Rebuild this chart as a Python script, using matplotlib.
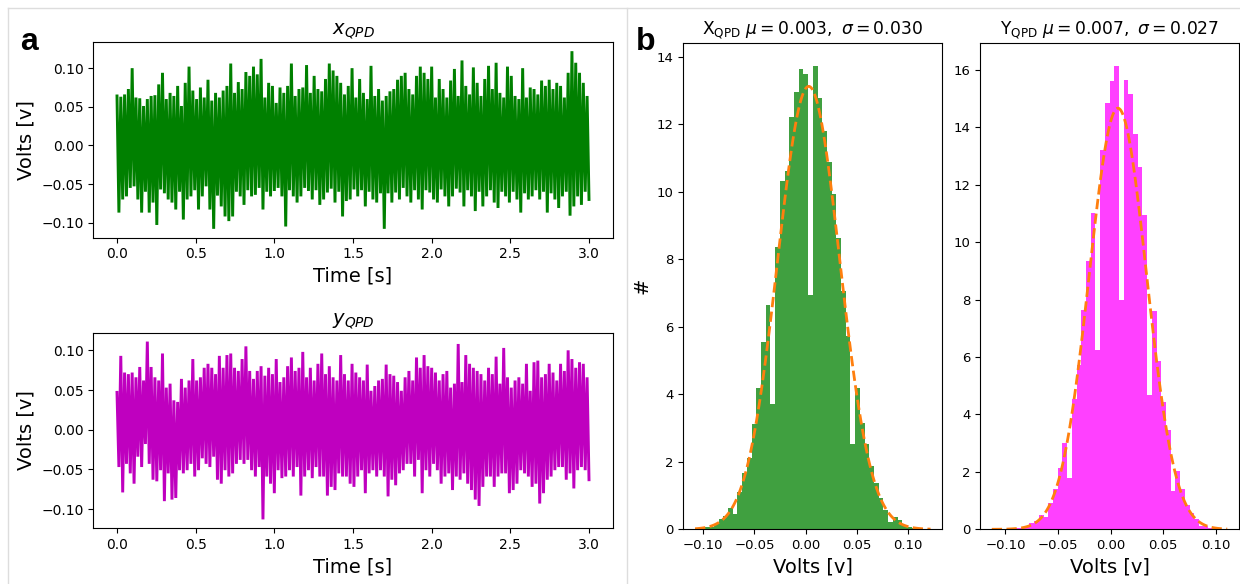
import numpy as np
import matplotlib
matplotlib.use("Agg")
from matplotlib import pyplot as plt
from matplotlib.lines import Line2D

plt.rcParams['path.simplify'] = False

# --- time traces: alternating upper / lower excursions
x_up = [0.064, 0.063, 0.066, 0.073, 0.100, 0.062, 0.061, 0.051, 0.060, 0.064,
        0.065, 0.079, 0.094, 0.060, 0.068, 0.064, 0.077, 0.051, 0.081, 0.102,
        0.071, 0.060, 0.075, 0.062, 0.085, 0.058, 0.068, 0.062, 0.071, 0.077,
        0.106, 0.068, 0.082, 0.073, 0.095, 0.090, 0.102, 0.092, 0.112, 0.062,
        0.081, 0.077, 0.055, 0.075, 0.068, 0.077, 0.106, 0.064, 0.073, 0.075,
        0.104, 0.068, 0.090, 0.073, 0.070, 0.086, 0.106, 0.097, 0.090, 0.081,
        0.066, 0.077, 0.100, 0.062, 0.086, 0.068, 0.060, 0.103, 0.064, 0.073,
        0.058, 0.064, 0.070, 0.073, 0.085, 0.090, 0.094, 0.073, 0.066, 0.090,
        0.102, 0.094, 0.086, 0.102, 0.062, 0.086, 0.073, 0.062, 0.084, 0.099,
        0.064, 0.110, 0.077, 0.066, 0.101, 0.081, 0.064, 0.086, 0.103, 0.073,
        0.107, 0.068, 0.062, 0.102, 0.090, 0.064, 0.060, 0.100, 0.062, 0.075,
        0.073, 0.066, 0.084, 0.077, 0.085, 0.073, 0.081, 0.077, 0.062, 0.094,
        0.122, 0.107, 0.094, 0.081, 0.064]
x_down = [-0.087, -0.070, -0.066, -0.055, -0.053, -0.070, -0.087, -0.060, -0.087, -0.074,
          -0.103, -0.057, -0.062, -0.070, -0.074, -0.083, -0.060, -0.096, -0.070, -0.066,
          -0.058, -0.083, -0.066, -0.053, -0.083, -0.108, -0.065, -0.079, -0.092, -0.098,
          -0.092, -0.060, -0.066, -0.077, -0.058, -0.066, -0.064, -0.055, -0.083, -0.060,
          -0.066, -0.059, -0.055, -0.066, -0.105, -0.058, -0.066, -0.074, -0.066, -0.055,
          -0.059, -0.070, -0.058, -0.077, -0.070, -0.061, -0.056, -0.074, -0.060, -0.092,
          -0.072, -0.070, -0.057, -0.066, -0.058, -0.079, -0.060, -0.070, -0.074, -0.062,
          -0.108, -0.062, -0.074, -0.061, -0.070, -0.055, -0.066, -0.074, -0.058, -0.070,
          -0.083, -0.058, -0.061, -0.070, -0.074, -0.057, -0.066, -0.079, -0.066, -0.056,
          -0.061, -0.079, -0.058, -0.066, -0.085, -0.060, -0.079, -0.066, -0.058, -0.074,
          -0.081, -0.060, -0.066, -0.074, -0.060, -0.070, -0.087, -0.062, -0.070, -0.066,
          -0.058, -0.070, -0.060, -0.087, -0.062, -0.070, -0.081, -0.066, -0.060, -0.091,
          -0.079, -0.066, -0.077, -0.060, -0.070]

y_up = [0.047, 0.093, 0.072, 0.070, 0.072, 0.066, 0.079, 0.062, 0.111, 0.079,
        0.066, 0.062, 0.096, 0.053, 0.058, 0.037, 0.035, 0.064, 0.053, 0.062,
        0.089, 0.062, 0.066, 0.078, 0.083, 0.078, 0.070, 0.093, 0.078, 0.094,
        0.096, 0.078, 0.074, 0.089, 0.105, 0.074, 0.064, 0.074, 0.080, 0.068,
        0.078, 0.070, 0.089, 0.060, 0.066, 0.080, 0.091, 0.074, 0.078, 0.098,
        0.066, 0.078, 0.062, 0.083, 0.096, 0.070, 0.080, 0.066, 0.062, 0.094,
        0.070, 0.062, 0.083, 0.072, 0.066, 0.062, 0.082, 0.049, 0.055, 0.062,
        0.064, 0.082, 0.070, 0.068, 0.060, 0.049, 0.066, 0.074, 0.062, 0.091,
        0.078, 0.094, 0.080, 0.078, 0.072, 0.062, 0.070, 0.074, 0.053, 0.058,
        0.108, 0.060, 0.094, 0.083, 0.078, 0.074, 0.070, 0.062, 0.078, 0.070,
        0.092, 0.058, 0.103, 0.066, 0.053, 0.062, 0.066, 0.058, 0.083, 0.049,
        0.085, 0.087, 0.066, 0.070, 0.083, 0.072, 0.062, 0.083, 0.074, 0.100,
        0.089, 0.078, 0.085, 0.083, 0.066]
y_down = [-0.047, -0.079, -0.043, -0.055, -0.068, -0.034, -0.047, -0.018, -0.043, -0.063,
          -0.065, -0.051, -0.090, -0.055, -0.088, -0.086, -0.051, -0.055, -0.051, -0.043,
          -0.059, -0.051, -0.036, -0.043, -0.047, -0.034, -0.063, -0.068, -0.051, -0.059,
          -0.055, -0.043, -0.038, -0.043, -0.038, -0.051, -0.059, -0.047, -0.113, -0.059,
          -0.068, -0.080, -0.051, -0.061, -0.059, -0.051, -0.059, -0.047, -0.083, -0.059,
          -0.051, -0.061, -0.047, -0.059, -0.059, -0.083, -0.072, -0.076, -0.055, -0.059,
          -0.059, -0.068, -0.072, -0.059, -0.051, -0.080, -0.055, -0.051, -0.059, -0.051,
          -0.059, -0.084, -0.063, -0.070, -0.055, -0.051, -0.043, -0.043, -0.059, -0.038,
          -0.080, -0.051, -0.059, -0.043, -0.051, -0.068, -0.059, -0.055, -0.076, -0.059,
          -0.063, -0.055, -0.068, -0.076, -0.088, -0.096, -0.072, -0.059, -0.059, -0.072,
          -0.059, -0.055, -0.055, -0.080, -0.076, -0.068, -0.051, -0.055, -0.059, -0.072,
          -0.068, -0.093, -0.080, -0.063, -0.059, -0.051, -0.047, -0.047, -0.063, -0.055,
          -0.074, -0.051, -0.047, -0.051, -0.063]

duration = 3.0

# --- histograms (density), 50 bins each
x_range = (-0.108, 0.122)
x_heights = [0.03, 0.05, 0.08, 0.08, 0.15, 0.30, 0.38, 0.62, 0.44, 1.10,
             1.67, 2.10, 3.12, 4.20, 5.55, 6.65, 3.70, 8.37, 10.31, 10.61,
             12.22, 12.96, 13.65, 13.50, 6.95, 13.73, 12.79, 11.79, 10.88, 9.94,
             8.62, 7.05, 5.72, 2.53, 4.20, 3.15, 2.53, 1.88, 1.37, 0.92,
             0.57, 0.23, 0.35, 0.28, 0.12, 0.06, 0.03, 0.02, 0.01, 0.01]
y_range = (-0.113, 0.111)
y_heights = [0.01, 0.01, 0.02, 0.02, 0.02, 0.04, 0.06, 0.10, 0.21, 0.30,
             0.50, 0.44, 0.90, 1.40, 2.12, 3.00, 1.80, 4.53, 5.73, 7.65,
             9.33, 11.02, 6.23, 13.20, 14.83, 15.61, 16.14, 8.00, 15.65, 15.15,
             13.75, 12.61, 10.96, 4.68, 7.59, 5.85, 4.42, 3.46, 1.35, 2.03,
             1.40, 0.85, 0.56, 0.35, 0.12, 0.10, 0.05, 0.03, 0.01, 0.01]

mu_x, sigma_x = 0.003, 0.0304
mu_y, sigma_y = 0.007, 0.0272


def trace(up, down):
    v = np.column_stack([up, down]).ravel()
    t = np.linspace(0, duration, len(v))
    return t, v


def gauss(x, mu, s):
    return np.exp(-0.5 * ((x - mu) / s) ** 2) / (s * np.sqrt(2 * np.pi))


W, H = 1240, 584
fig = plt.figure(figsize=(W / 100, H / 100), dpi=100)


def box(l, t, r, b):
    return [l / W, 1 - b / H, (r - l) / W, (b - t) / H]


# faint panel frames
for seg in [((8, 1240), (8, 8)), ((8, 8), (8, 584)), ((627, 627), (8, 584))]:
    fig.add_artist(Line2D([seg[0][0] / W, seg[0][1] / W],
                          [1 - seg[1][0] / H, 1 - seg[1][1] / H],
                          color='#dddddd', lw=1))

# panel a
for (top, bot), up, down, col, name in [((42.3, 237.7), x_up, x_down, 'green', r'$x_{QPD}$'),
                                        ((332.7, 528.3), y_up, y_down, 'm', r'$y_{QPD}$')]:
    ax = fig.add_axes(box(93.4, top, 612.6, bot))
    t, v = trace(up, down)
    ax.plot(t, v, color=col, lw=2.1, solid_joinstyle='miter')
    ax.set_title(name, fontsize=14)
    ax.set_xlabel('Time [s]', fontsize=14)
    ax.set_ylabel('Volts [v]', fontsize=14)
    ax.tick_params(labelsize=10)

# panel b
for left, rng, heights, mu, s, col, lab in [
        (683.3, x_range, x_heights, mu_x, sigma_x, 'green', 'X'),
        (980.0, y_range, y_heights, mu_y, sigma_y, 'magenta', 'Y')]:
    ax = fig.add_axes(box(left, 42.7, left + 259, 529.3))
    edges = np.linspace(rng[0], rng[1], len(heights) + 1)
    ax.hist(edges[:-1], bins=edges, weights=heights, color=col, alpha=0.75)
    xx = np.linspace(rng[0], rng[1], 300)
    ax.plot(xx, gauss(xx, mu, s), '--', color='C1', lw=2)
    ax.set_title(lab + r'$_{\rm QPD}$ $\mu=%.3f,\ \sigma=%.3f$' % (mu, s), fontsize=12.3)
    ax.set_xlabel('Volts [v]', fontsize=14)
    ax.tick_params(labelsize=9.5)
    if lab == 'X':
        ax.set_ylabel('#', fontsize=14)

fig.text(29 / W, 1 - 50 / H, 'a', fontsize=23, fontweight='bold',
         family='Liberation Sans', ha='center', va='baseline')
fig.text(646 / W, 1 - 50 / H, 'b', fontsize=23, fontweight='bold',
         family='Liberation Sans', ha='center', va='baseline')

fig.savefig('out.png', dpi=100)
